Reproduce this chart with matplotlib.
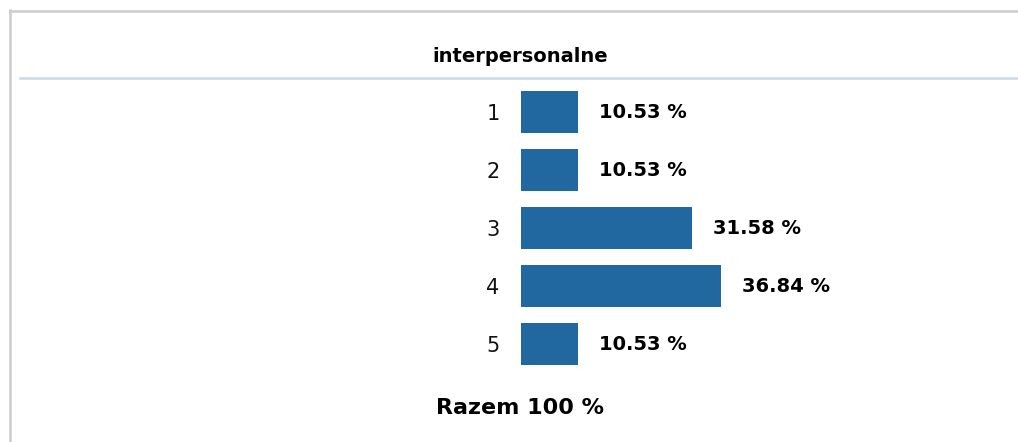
import matplotlib
matplotlib.use("Agg")
import matplotlib.pyplot as plt
from matplotlib.lines import Line2D

title = "interpersonalne"
categories = ["1", "2", "3", "4", "5"]
values = [10.53, 10.53, 31.58, 36.84, 10.53]
total_label = "Razem 100 %"

W, H = 1018, 442
fig = plt.figure(figsize=(W / 100, H / 100), dpi=100)
fig.patch.set_facecolor("white")

def fx(px):
    return px / W

def fy(py):
    return 1 - py / H

# frame lines (gray border left and top)
fig.add_artist(Line2D([fx(10), fx(10)], [fy(10), fy(H + 5)], color="#cccccc", lw=1.8, transform=fig.transFigure))
fig.add_artist(Line2D([fx(10), fx(W + 5)], [fy(10.5), fy(10.5)], color="#cccccc", lw=1.8, transform=fig.transFigure))
# light blue separator
fig.add_artist(Line2D([fx(20), fx(W + 5)], [fy(78), fy(78)], color="#c9dbe7", lw=1.8, transform=fig.transFigure))

fig.text(fx(520), fy(56), title, ha="center", va="center", fontsize=14, fontweight="bold", color="#000000")

# axes for bars
x0, x1 = 521, W
y_top, y_bot = 83, 373
ax = fig.add_axes([fx(x0), fy(y_bot), fx(x1 - x0), (y_bot - y_top) / H])
px_per_unit = 200 / 36.84
ax.set_xlim(0, (x1 - x0) / px_per_unit)
ax.set_ylim(len(categories) - 0.5, -0.5)
ypos = list(range(len(categories)))
ax.barh(ypos, values, height=42 / 58, color="#2268a0", left=0)
ax.set_yticks(ypos)
ax.set_yticklabels(categories, fontsize=15, color="#111111")
ax.tick_params(axis="y", length=0, pad=15.5)
ax.set_xticks([])
for s in ax.spines.values():
    s.set_visible(False)
ax.patch.set_alpha(0)

for y, v in zip(ypos, values):
    ax.annotate(f"{v:.2f} %", xy=(v, y), xytext=(15.1, 0), textcoords="offset points",
                ha="left", va="center", fontsize=14, fontweight="bold", color="#000000")

fig.text(fx(520), fy(408), total_label, ha="center", va="center", fontsize=16, fontweight="bold", color="#000000")

fig.savefig("out.png", dpi=100, facecolor="white")
